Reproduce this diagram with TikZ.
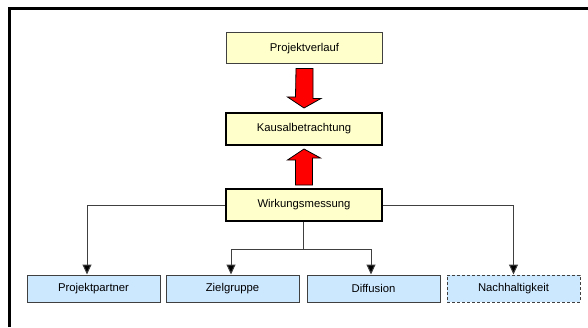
\documentclass[tikz,border=0pt]{standalone}
\usepackage{fontspec}
\setmainfont{Liberation Sans}
\usepackage{tikz}
\usetikzlibrary{calc,arrows.meta}
\definecolor{boxyellow}{HTML}{FFFFCC}
\definecolor{boxblue}{HTML}{CCE8FF}
\definecolor{linegray}{HTML}{404040}
\begin{document}
\begin{tikzpicture}[x=1pt,y=1pt,
  yellowbox/.style={draw=black,fill=boxyellow,minimum width=156pt,minimum height=32pt,inner sep=0pt,font=\fontsize{11.3}{13}\selectfont},
  bluebox/.style={draw=linegray,line width=1pt,fill=boxblue,minimum width=133pt,minimum height=27pt,inner sep=0pt,font=\fontsize{11.3}{13}\selectfont},
  conn/.style={draw=linegray,line width=1pt,-{Triangle[width=9pt,length=10pt,fill=black]}},
  bigarrow/.style={draw=black,fill=red,line width=0.8pt,line join=miter}]
\useasboundingbox (0,0) rectangle (588,327);
\draw[line width=3pt] (9,0)--(9,318)--(588,318);
\node[yellowbox,line width=1pt,draw=linegray,minimum height=31pt] (verlauf) at (304.5,278.5) {Projektverlauf};
\node[yellowbox,line width=2pt] (kausal) at (304,198) {Kausalbetrachtung};
\node[yellowbox,line width=2pt] (wirkung) at (304,122) {Wirkungsmessung};
\node[bluebox] (partner) at (93.5,38.5) {Projektpartner};
\node[bluebox] (ziel) at (232.5,38.5) {Zielgruppe};
\node[bluebox] (diffusion) at (373.5,38.5) {Diffusion};
\node[bluebox,dash pattern=on 3pt off 2pt] (nachhalt) at (513.5,38.5) {Nachhaltigkeit};
\draw[bigarrow] ($(verlauf.south)+(-8.5,-4)$)--++(17,0)--++(0,-30)--++(8,0)--($(kausal.north)+(0,4)$)--++(-16.5,11)--++(8,0)--cycle;
\draw[bigarrow] ($(wirkung.north)+(-8.5,3)$)--++(17,0)--++(0,27)--++(8,0)--($(kausal.south)+(0,-3)$)--++(-16.5,-11)--++(8,0)--cycle;
\draw[conn] (wirkung.west) -| ([xshift=-6.5pt]partner.north);
\draw[conn] (wirkung.east) -| (nachhalt.north);
\draw[draw=linegray,line width=1pt] ([xshift=-1pt]wirkung.south)--++(0,-27) coordinate (split);
\draw[conn] (split) -| ([xshift=-1.5pt]ziel.north);
\draw[conn] (split) -| ([xshift=-2.5pt]diffusion.north);
\end{tikzpicture}
\end{document}
